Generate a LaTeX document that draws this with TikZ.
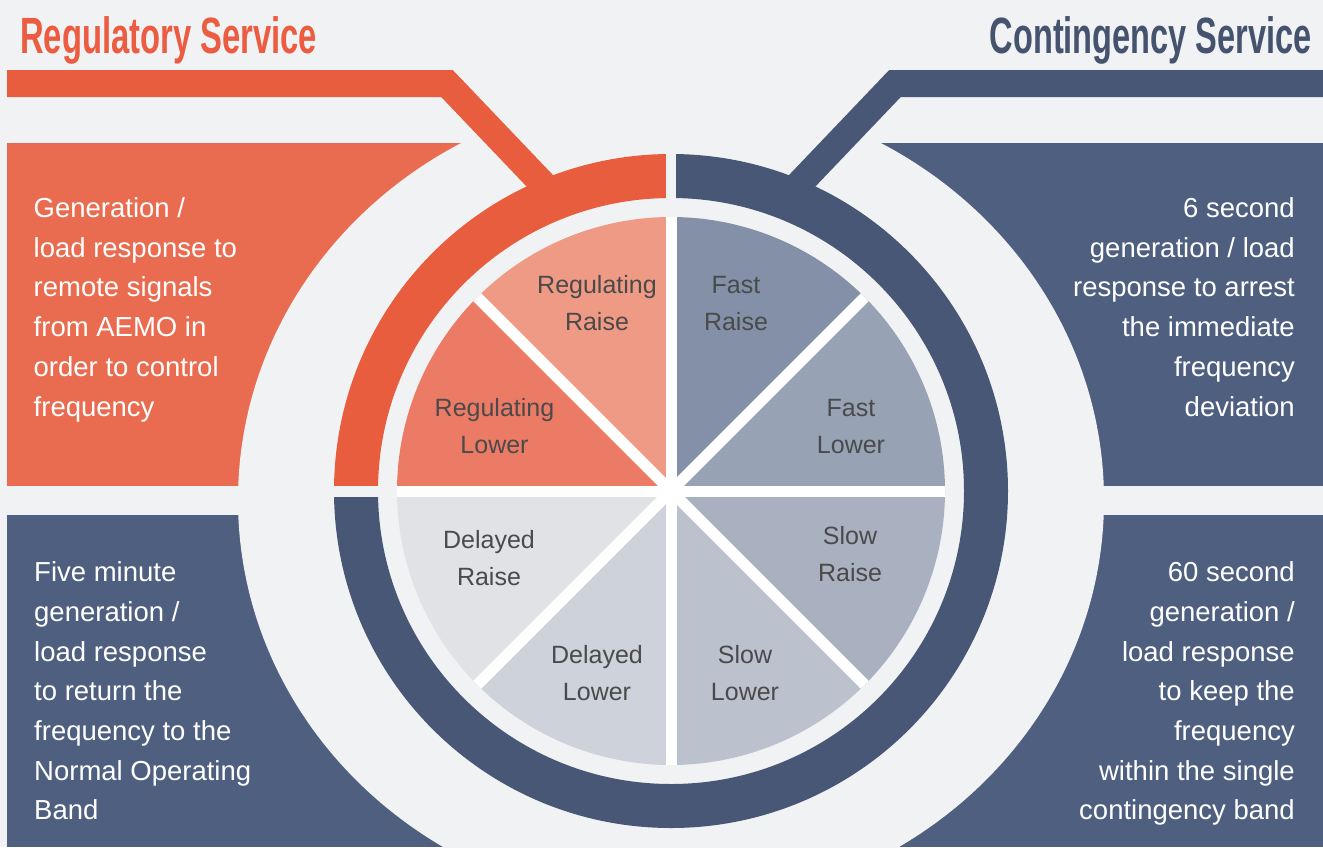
\documentclass[tikz,border=0pt]{standalone}
\usepackage{fontspec}
\usepackage{graphicx}
\setmainfont{Liberation Sans}

% palette
\definecolor{bgpage}{HTML}{F1F2F4}
\definecolor{regorange}{HTML}{E95D3F}
\definecolor{regtitle}{HTML}{EC5C40}
\definecolor{regbox}{HTML}{E96C50}
\definecolor{contblue}{HTML}{485775}
\definecolor{contbox}{HTML}{4F5F80}
\definecolor{conttitle}{HTML}{46536F}
\definecolor{pietext}{HTML}{4A4A4A}
\definecolor{sliceRR}{HTML}{EE9A85}
\definecolor{sliceRL}{HTML}{EC7B66}
\definecolor{sliceDR}{HTML}{E0E2E6}
\definecolor{sliceDL}{HTML}{CDD2DB}
\definecolor{sliceSL}{HTML}{BBC1CD}
\definecolor{sliceSR}{HTML}{A9B1C0}
\definecolor{sliceFL}{HTML}{97A2B4}
\definecolor{sliceFR}{HTML}{8390A8}

\newcommand\bodytxt{\fontsize{27.5}{39.7}\selectfont}
\newcommand\slicetxt{\fontsize{25}{37}\selectfont}
\newcommand\headtxt{\fontsize{51}{51}\selectfont\bfseries}

\begin{document}
\begin{tikzpicture}[x=1pt,y=1pt,
  boxtext/.style={inner sep=0pt, text=white, font=\bodytxt},
  slicelabel/.style={inner sep=0pt, text=pietext, font=\slicetxt, anchor=base},
  connector/.style={line width=27pt, line join=miter, miter limit=10},
  ringband/.style={line width=44pt},
  divider/.style={white, line width=11pt}
]
\useasboundingbox (0,0) rectangle (1323,-847);
\fill[bgpage] (0,0) rectangle (1323,-847);

% description panels, hollowed by the light oval around the wheel
\fill[regbox]  (7,-143)   rectangle (671,-486);
\fill[contbox] (671,-143) rectangle (1323,-486);
\fill[contbox] (7,-515)   rectangle (671,-847);
\fill[contbox] (671,-515) rectangle (1323,-847);
\fill[bgpage] (671,-500) ellipse [x radius=433, y radius=408];

% titles
\node[anchor=base west, inner sep=0pt, text=regtitle] (regname) at (20,-53.3)
  {\resizebox{297pt}{\height}{\headtxt Regulatory Service}};
\node[anchor=base east, inner sep=0pt, text=conttitle] (contname) at (1312,-53.3)
  {\resizebox{322pt}{\height}{\headtxt Contingency Service}};

% wheel centre
\coordinate (C) at (671,-491);

% leader bars from the titles to the ring
\coordinate (regstart) at (7,-83.5);
\coordinate (regbend)  at (447,-83.5);
\coordinate (regend)   at (550.5,-192);
\coordinate (contstart) at (1323,-83.5);
\coordinate (contbend)  at (895,-83.5);
\coordinate (contend)   at (791.5,-192);
\draw[connector, regorange] (regstart) -- (regbend) -- (regend);
\draw[connector, contblue] (contstart) -- (contbend) -- (contend);

% outer ring: regulatory quarter and contingency three quarters
\draw[ringband, regorange] ([shift={(90:315)}]C) arc[start angle=90, end angle=180, radius=315];
\draw[ringband, contblue] ([shift={(180:315)}]C) arc[start angle=180, end angle=450, radius=315];
\fill[bgpage] (666,-150) rectangle (676,-202);
\fill[bgpage] (330,-486) rectangle (382,-497);

% wheel slices
\foreach \a/\col in {90/sliceRR,135/sliceRL,180/sliceDR,225/sliceDL,270/sliceSL,315/sliceSR,0/sliceFL,45/sliceFR}
  \fill[\col] (C) -- ++(\a:274) arc[start angle=\a, end angle=\a+45, radius=274] -- cycle;

% white spokes
\begin{scope}
  \clip (C) circle[radius=274];
  \foreach \a in {0,45,...,315}
    \draw[divider] (C) -- ++(\a:290);
\end{scope}

% slice labels
\node[slicelabel] (rr) at (597,-293.3) {\begin{tabular}[t]{@{}c@{}}Regulating\\Raise\end{tabular}};
\node[slicelabel] (rl) at (494.5,-416.7) {\begin{tabular}[t]{@{}c@{}}Regulating\\Lower\end{tabular}};
\node[slicelabel] (fr) at (736,-293.3) {\begin{tabular}[t]{@{}c@{}}Fast\\Raise\end{tabular}};
\node[slicelabel] (fl) at (851,-416.7) {\begin{tabular}[t]{@{}c@{}}Fast\\Lower\end{tabular}};
\node[slicelabel] (dr) at (489,-548) {\begin{tabular}[t]{@{}c@{}}Delayed\\Raise\end{tabular}};
\node[slicelabel] (dl) at (597,-663) {\begin{tabular}[t]{@{}c@{}}Delayed\\Lower\end{tabular}};
\node[slicelabel] (sl) at (745,-663) {\begin{tabular}[t]{@{}c@{}}Slow\\Lower\end{tabular}};
\node[slicelabel] (sr) at (850,-544) {\begin{tabular}[t]{@{}c@{}}Slow\\Raise\end{tabular}};

% panel texts
\node[boxtext, anchor=base west] (regtext) at (33.5,-217.5)
  {\begin{tabular}[t]{@{}l@{}}Generation /\\load response to\\remote signals\\from AEMO in\\order to control\\frequency\end{tabular}};
\node[boxtext, anchor=base east] (fasttext) at (1295,-217.5)
  {\begin{tabular}[t]{@{}r@{}}6 second\\generation / load\\response to arrest\\the immediate\\frequency\\deviation\end{tabular}};
\node[boxtext, anchor=base west] (delaytext) at (34,-581.6)
  {\begin{tabular}[t]{@{}l@{}}Five minute\\generation /\\load response\\to return the\\frequency to the\\Normal Operating\\Band\end{tabular}};
\node[boxtext, anchor=base east] (slowtext) at (1295,-581.6)
  {\begin{tabular}[t]{@{}r@{}}60 second\\generation /\\load response\\to keep the\\frequency\\within the single\\contingency band\end{tabular}};
\end{tikzpicture}
\end{document}
